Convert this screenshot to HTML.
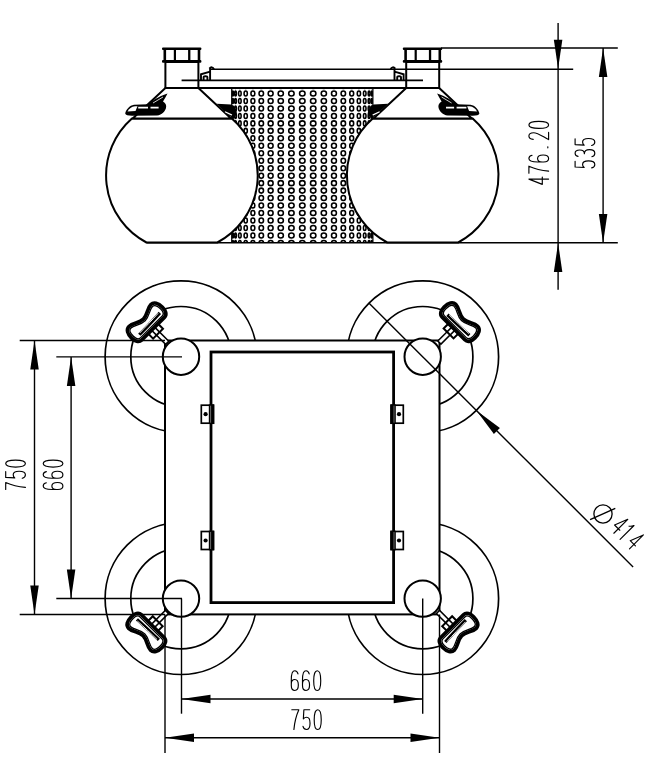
<!DOCTYPE html>
<html><head><meta charset="utf-8"><style>
html,body{margin:0;padding:0;background:#fff;width:653px;height:780px;overflow:hidden;font-family:"Liberation Sans",sans-serif;}
svg{display:block}
</style></head><body>
<svg width="653" height="780" viewBox="0 0 653 780" stroke="#000" fill="none"><defs><clipPath id="mc"><rect x="231.7" y="88" width="141.2" height="155"/></clipPath></defs>
<g clip-path="url(#mc)" stroke-width="1.55" fill="none"><ellipse cx="232.79" cy="86.03" rx="0.80" ry="2.5"/><ellipse cx="235.53" cy="86.03" rx="0.89" ry="2.5"/><ellipse cx="239.87" cy="86.03" rx="1.28" ry="2.5"/><ellipse cx="245.71" cy="86.03" rx="1.64" ry="2.5"/><ellipse cx="252.90" cy="86.03" rx="1.96" ry="2.5"/><ellipse cx="261.28" cy="86.03" rx="2.24" ry="2.5"/><ellipse cx="270.64" cy="86.03" rx="2.46" ry="2.5"/><ellipse cx="280.76" cy="86.03" rx="2.62" ry="2.5"/><ellipse cx="291.40" cy="86.03" rx="2.72" ry="2.5"/><ellipse cx="302.30" cy="86.03" rx="2.75" ry="2.5"/><ellipse cx="313.20" cy="86.03" rx="2.72" ry="2.5"/><ellipse cx="323.84" cy="86.03" rx="2.62" ry="2.5"/><ellipse cx="333.96" cy="86.03" rx="2.46" ry="2.5"/><ellipse cx="343.32" cy="86.03" rx="2.24" ry="2.5"/><ellipse cx="351.70" cy="86.03" rx="1.96" ry="2.5"/><ellipse cx="358.89" cy="86.03" rx="1.64" ry="2.5"/><ellipse cx="364.73" cy="86.03" rx="1.28" ry="2.5"/><ellipse cx="369.07" cy="86.03" rx="0.89" ry="2.5"/><ellipse cx="371.81" cy="86.03" rx="0.80" ry="2.5"/><ellipse cx="232.79" cy="93.50" rx="0.80" ry="2.5"/><ellipse cx="235.53" cy="93.50" rx="0.89" ry="2.5"/><ellipse cx="239.87" cy="93.50" rx="1.28" ry="2.5"/><ellipse cx="245.71" cy="93.50" rx="1.64" ry="2.5"/><ellipse cx="252.90" cy="93.50" rx="1.96" ry="2.5"/><ellipse cx="261.28" cy="93.50" rx="2.24" ry="2.5"/><ellipse cx="270.64" cy="93.50" rx="2.46" ry="2.5"/><ellipse cx="280.76" cy="93.50" rx="2.62" ry="2.5"/><ellipse cx="291.40" cy="93.50" rx="2.72" ry="2.5"/><ellipse cx="302.30" cy="93.50" rx="2.75" ry="2.5"/><ellipse cx="313.20" cy="93.50" rx="2.72" ry="2.5"/><ellipse cx="323.84" cy="93.50" rx="2.62" ry="2.5"/><ellipse cx="333.96" cy="93.50" rx="2.46" ry="2.5"/><ellipse cx="343.32" cy="93.50" rx="2.24" ry="2.5"/><ellipse cx="351.70" cy="93.50" rx="1.96" ry="2.5"/><ellipse cx="358.89" cy="93.50" rx="1.64" ry="2.5"/><ellipse cx="364.73" cy="93.50" rx="1.28" ry="2.5"/><ellipse cx="369.07" cy="93.50" rx="0.89" ry="2.5"/><ellipse cx="371.81" cy="93.50" rx="0.80" ry="2.5"/><ellipse cx="232.79" cy="100.97" rx="0.80" ry="2.5"/><ellipse cx="235.53" cy="100.97" rx="0.89" ry="2.5"/><ellipse cx="239.87" cy="100.97" rx="1.28" ry="2.5"/><ellipse cx="245.71" cy="100.97" rx="1.64" ry="2.5"/><ellipse cx="252.90" cy="100.97" rx="1.96" ry="2.5"/><ellipse cx="261.28" cy="100.97" rx="2.24" ry="2.5"/><ellipse cx="270.64" cy="100.97" rx="2.46" ry="2.5"/><ellipse cx="280.76" cy="100.97" rx="2.62" ry="2.5"/><ellipse cx="291.40" cy="100.97" rx="2.72" ry="2.5"/><ellipse cx="302.30" cy="100.97" rx="2.75" ry="2.5"/><ellipse cx="313.20" cy="100.97" rx="2.72" ry="2.5"/><ellipse cx="323.84" cy="100.97" rx="2.62" ry="2.5"/><ellipse cx="333.96" cy="100.97" rx="2.46" ry="2.5"/><ellipse cx="343.32" cy="100.97" rx="2.24" ry="2.5"/><ellipse cx="351.70" cy="100.97" rx="1.96" ry="2.5"/><ellipse cx="358.89" cy="100.97" rx="1.64" ry="2.5"/><ellipse cx="364.73" cy="100.97" rx="1.28" ry="2.5"/><ellipse cx="369.07" cy="100.97" rx="0.89" ry="2.5"/><ellipse cx="371.81" cy="100.97" rx="0.80" ry="2.5"/><ellipse cx="232.79" cy="108.44" rx="0.80" ry="2.5"/><ellipse cx="235.53" cy="108.44" rx="0.89" ry="2.5"/><ellipse cx="239.87" cy="108.44" rx="1.28" ry="2.5"/><ellipse cx="245.71" cy="108.44" rx="1.64" ry="2.5"/><ellipse cx="252.90" cy="108.44" rx="1.96" ry="2.5"/><ellipse cx="261.28" cy="108.44" rx="2.24" ry="2.5"/><ellipse cx="270.64" cy="108.44" rx="2.46" ry="2.5"/><ellipse cx="280.76" cy="108.44" rx="2.62" ry="2.5"/><ellipse cx="291.40" cy="108.44" rx="2.72" ry="2.5"/><ellipse cx="302.30" cy="108.44" rx="2.75" ry="2.5"/><ellipse cx="313.20" cy="108.44" rx="2.72" ry="2.5"/><ellipse cx="323.84" cy="108.44" rx="2.62" ry="2.5"/><ellipse cx="333.96" cy="108.44" rx="2.46" ry="2.5"/><ellipse cx="343.32" cy="108.44" rx="2.24" ry="2.5"/><ellipse cx="351.70" cy="108.44" rx="1.96" ry="2.5"/><ellipse cx="358.89" cy="108.44" rx="1.64" ry="2.5"/><ellipse cx="364.73" cy="108.44" rx="1.28" ry="2.5"/><ellipse cx="369.07" cy="108.44" rx="0.89" ry="2.5"/><ellipse cx="371.81" cy="108.44" rx="0.80" ry="2.5"/><ellipse cx="232.79" cy="115.91" rx="0.80" ry="2.5"/><ellipse cx="235.53" cy="115.91" rx="0.89" ry="2.5"/><ellipse cx="239.87" cy="115.91" rx="1.28" ry="2.5"/><ellipse cx="245.71" cy="115.91" rx="1.64" ry="2.5"/><ellipse cx="252.90" cy="115.91" rx="1.96" ry="2.5"/><ellipse cx="261.28" cy="115.91" rx="2.24" ry="2.5"/><ellipse cx="270.64" cy="115.91" rx="2.46" ry="2.5"/><ellipse cx="280.76" cy="115.91" rx="2.62" ry="2.5"/><ellipse cx="291.40" cy="115.91" rx="2.72" ry="2.5"/><ellipse cx="302.30" cy="115.91" rx="2.75" ry="2.5"/><ellipse cx="313.20" cy="115.91" rx="2.72" ry="2.5"/><ellipse cx="323.84" cy="115.91" rx="2.62" ry="2.5"/><ellipse cx="333.96" cy="115.91" rx="2.46" ry="2.5"/><ellipse cx="343.32" cy="115.91" rx="2.24" ry="2.5"/><ellipse cx="351.70" cy="115.91" rx="1.96" ry="2.5"/><ellipse cx="358.89" cy="115.91" rx="1.64" ry="2.5"/><ellipse cx="364.73" cy="115.91" rx="1.28" ry="2.5"/><ellipse cx="369.07" cy="115.91" rx="0.89" ry="2.5"/><ellipse cx="371.81" cy="115.91" rx="0.80" ry="2.5"/><ellipse cx="232.79" cy="123.38" rx="0.80" ry="2.5"/><ellipse cx="235.53" cy="123.38" rx="0.89" ry="2.5"/><ellipse cx="239.87" cy="123.38" rx="1.28" ry="2.5"/><ellipse cx="245.71" cy="123.38" rx="1.64" ry="2.5"/><ellipse cx="252.90" cy="123.38" rx="1.96" ry="2.5"/><ellipse cx="261.28" cy="123.38" rx="2.24" ry="2.5"/><ellipse cx="270.64" cy="123.38" rx="2.46" ry="2.5"/><ellipse cx="280.76" cy="123.38" rx="2.62" ry="2.5"/><ellipse cx="291.40" cy="123.38" rx="2.72" ry="2.5"/><ellipse cx="302.30" cy="123.38" rx="2.75" ry="2.5"/><ellipse cx="313.20" cy="123.38" rx="2.72" ry="2.5"/><ellipse cx="323.84" cy="123.38" rx="2.62" ry="2.5"/><ellipse cx="333.96" cy="123.38" rx="2.46" ry="2.5"/><ellipse cx="343.32" cy="123.38" rx="2.24" ry="2.5"/><ellipse cx="351.70" cy="123.38" rx="1.96" ry="2.5"/><ellipse cx="358.89" cy="123.38" rx="1.64" ry="2.5"/><ellipse cx="364.73" cy="123.38" rx="1.28" ry="2.5"/><ellipse cx="369.07" cy="123.38" rx="0.89" ry="2.5"/><ellipse cx="371.81" cy="123.38" rx="0.80" ry="2.5"/><ellipse cx="232.79" cy="130.85" rx="0.80" ry="2.5"/><ellipse cx="235.53" cy="130.85" rx="0.89" ry="2.5"/><ellipse cx="239.87" cy="130.85" rx="1.28" ry="2.5"/><ellipse cx="245.71" cy="130.85" rx="1.64" ry="2.5"/><ellipse cx="252.90" cy="130.85" rx="1.96" ry="2.5"/><ellipse cx="261.28" cy="130.85" rx="2.24" ry="2.5"/><ellipse cx="270.64" cy="130.85" rx="2.46" ry="2.5"/><ellipse cx="280.76" cy="130.85" rx="2.62" ry="2.5"/><ellipse cx="291.40" cy="130.85" rx="2.72" ry="2.5"/><ellipse cx="302.30" cy="130.85" rx="2.75" ry="2.5"/><ellipse cx="313.20" cy="130.85" rx="2.72" ry="2.5"/><ellipse cx="323.84" cy="130.85" rx="2.62" ry="2.5"/><ellipse cx="333.96" cy="130.85" rx="2.46" ry="2.5"/><ellipse cx="343.32" cy="130.85" rx="2.24" ry="2.5"/><ellipse cx="351.70" cy="130.85" rx="1.96" ry="2.5"/><ellipse cx="358.89" cy="130.85" rx="1.64" ry="2.5"/><ellipse cx="364.73" cy="130.85" rx="1.28" ry="2.5"/><ellipse cx="369.07" cy="130.85" rx="0.89" ry="2.5"/><ellipse cx="371.81" cy="130.85" rx="0.80" ry="2.5"/><ellipse cx="232.79" cy="138.32" rx="0.80" ry="2.5"/><ellipse cx="235.53" cy="138.32" rx="0.89" ry="2.5"/><ellipse cx="239.87" cy="138.32" rx="1.28" ry="2.5"/><ellipse cx="245.71" cy="138.32" rx="1.64" ry="2.5"/><ellipse cx="252.90" cy="138.32" rx="1.96" ry="2.5"/><ellipse cx="261.28" cy="138.32" rx="2.24" ry="2.5"/><ellipse cx="270.64" cy="138.32" rx="2.46" ry="2.5"/><ellipse cx="280.76" cy="138.32" rx="2.62" ry="2.5"/><ellipse cx="291.40" cy="138.32" rx="2.72" ry="2.5"/><ellipse cx="302.30" cy="138.32" rx="2.75" ry="2.5"/><ellipse cx="313.20" cy="138.32" rx="2.72" ry="2.5"/><ellipse cx="323.84" cy="138.32" rx="2.62" ry="2.5"/><ellipse cx="333.96" cy="138.32" rx="2.46" ry="2.5"/><ellipse cx="343.32" cy="138.32" rx="2.24" ry="2.5"/><ellipse cx="351.70" cy="138.32" rx="1.96" ry="2.5"/><ellipse cx="358.89" cy="138.32" rx="1.64" ry="2.5"/><ellipse cx="364.73" cy="138.32" rx="1.28" ry="2.5"/><ellipse cx="369.07" cy="138.32" rx="0.89" ry="2.5"/><ellipse cx="371.81" cy="138.32" rx="0.80" ry="2.5"/><ellipse cx="232.79" cy="145.79" rx="0.80" ry="2.5"/><ellipse cx="235.53" cy="145.79" rx="0.89" ry="2.5"/><ellipse cx="239.87" cy="145.79" rx="1.28" ry="2.5"/><ellipse cx="245.71" cy="145.79" rx="1.64" ry="2.5"/><ellipse cx="252.90" cy="145.79" rx="1.96" ry="2.5"/><ellipse cx="261.28" cy="145.79" rx="2.24" ry="2.5"/><ellipse cx="270.64" cy="145.79" rx="2.46" ry="2.5"/><ellipse cx="280.76" cy="145.79" rx="2.62" ry="2.5"/><ellipse cx="291.40" cy="145.79" rx="2.72" ry="2.5"/><ellipse cx="302.30" cy="145.79" rx="2.75" ry="2.5"/><ellipse cx="313.20" cy="145.79" rx="2.72" ry="2.5"/><ellipse cx="323.84" cy="145.79" rx="2.62" ry="2.5"/><ellipse cx="333.96" cy="145.79" rx="2.46" ry="2.5"/><ellipse cx="343.32" cy="145.79" rx="2.24" ry="2.5"/><ellipse cx="351.70" cy="145.79" rx="1.96" ry="2.5"/><ellipse cx="358.89" cy="145.79" rx="1.64" ry="2.5"/><ellipse cx="364.73" cy="145.79" rx="1.28" ry="2.5"/><ellipse cx="369.07" cy="145.79" rx="0.89" ry="2.5"/><ellipse cx="371.81" cy="145.79" rx="0.80" ry="2.5"/><ellipse cx="232.79" cy="153.26" rx="0.80" ry="2.5"/><ellipse cx="235.53" cy="153.26" rx="0.89" ry="2.5"/><ellipse cx="239.87" cy="153.26" rx="1.28" ry="2.5"/><ellipse cx="245.71" cy="153.26" rx="1.64" ry="2.5"/><ellipse cx="252.90" cy="153.26" rx="1.96" ry="2.5"/><ellipse cx="261.28" cy="153.26" rx="2.24" ry="2.5"/><ellipse cx="270.64" cy="153.26" rx="2.46" ry="2.5"/><ellipse cx="280.76" cy="153.26" rx="2.62" ry="2.5"/><ellipse cx="291.40" cy="153.26" rx="2.72" ry="2.5"/><ellipse cx="302.30" cy="153.26" rx="2.75" ry="2.5"/><ellipse cx="313.20" cy="153.26" rx="2.72" ry="2.5"/><ellipse cx="323.84" cy="153.26" rx="2.62" ry="2.5"/><ellipse cx="333.96" cy="153.26" rx="2.46" ry="2.5"/><ellipse cx="343.32" cy="153.26" rx="2.24" ry="2.5"/><ellipse cx="351.70" cy="153.26" rx="1.96" ry="2.5"/><ellipse cx="358.89" cy="153.26" rx="1.64" ry="2.5"/><ellipse cx="364.73" cy="153.26" rx="1.28" ry="2.5"/><ellipse cx="369.07" cy="153.26" rx="0.89" ry="2.5"/><ellipse cx="371.81" cy="153.26" rx="0.80" ry="2.5"/><ellipse cx="232.79" cy="160.73" rx="0.80" ry="2.5"/><ellipse cx="235.53" cy="160.73" rx="0.89" ry="2.5"/><ellipse cx="239.87" cy="160.73" rx="1.28" ry="2.5"/><ellipse cx="245.71" cy="160.73" rx="1.64" ry="2.5"/><ellipse cx="252.90" cy="160.73" rx="1.96" ry="2.5"/><ellipse cx="261.28" cy="160.73" rx="2.24" ry="2.5"/><ellipse cx="270.64" cy="160.73" rx="2.46" ry="2.5"/><ellipse cx="280.76" cy="160.73" rx="2.62" ry="2.5"/><ellipse cx="291.40" cy="160.73" rx="2.72" ry="2.5"/><ellipse cx="302.30" cy="160.73" rx="2.75" ry="2.5"/><ellipse cx="313.20" cy="160.73" rx="2.72" ry="2.5"/><ellipse cx="323.84" cy="160.73" rx="2.62" ry="2.5"/><ellipse cx="333.96" cy="160.73" rx="2.46" ry="2.5"/><ellipse cx="343.32" cy="160.73" rx="2.24" ry="2.5"/><ellipse cx="351.70" cy="160.73" rx="1.96" ry="2.5"/><ellipse cx="358.89" cy="160.73" rx="1.64" ry="2.5"/><ellipse cx="364.73" cy="160.73" rx="1.28" ry="2.5"/><ellipse cx="369.07" cy="160.73" rx="0.89" ry="2.5"/><ellipse cx="371.81" cy="160.73" rx="0.80" ry="2.5"/><ellipse cx="232.79" cy="168.20" rx="0.80" ry="2.5"/><ellipse cx="235.53" cy="168.20" rx="0.89" ry="2.5"/><ellipse cx="239.87" cy="168.20" rx="1.28" ry="2.5"/><ellipse cx="245.71" cy="168.20" rx="1.64" ry="2.5"/><ellipse cx="252.90" cy="168.20" rx="1.96" ry="2.5"/><ellipse cx="261.28" cy="168.20" rx="2.24" ry="2.5"/><ellipse cx="270.64" cy="168.20" rx="2.46" ry="2.5"/><ellipse cx="280.76" cy="168.20" rx="2.62" ry="2.5"/><ellipse cx="291.40" cy="168.20" rx="2.72" ry="2.5"/><ellipse cx="302.30" cy="168.20" rx="2.75" ry="2.5"/><ellipse cx="313.20" cy="168.20" rx="2.72" ry="2.5"/><ellipse cx="323.84" cy="168.20" rx="2.62" ry="2.5"/><ellipse cx="333.96" cy="168.20" rx="2.46" ry="2.5"/><ellipse cx="343.32" cy="168.20" rx="2.24" ry="2.5"/><ellipse cx="351.70" cy="168.20" rx="1.96" ry="2.5"/><ellipse cx="358.89" cy="168.20" rx="1.64" ry="2.5"/><ellipse cx="364.73" cy="168.20" rx="1.28" ry="2.5"/><ellipse cx="369.07" cy="168.20" rx="0.89" ry="2.5"/><ellipse cx="371.81" cy="168.20" rx="0.80" ry="2.5"/><ellipse cx="232.79" cy="175.67" rx="0.80" ry="2.5"/><ellipse cx="235.53" cy="175.67" rx="0.89" ry="2.5"/><ellipse cx="239.87" cy="175.67" rx="1.28" ry="2.5"/><ellipse cx="245.71" cy="175.67" rx="1.64" ry="2.5"/><ellipse cx="252.90" cy="175.67" rx="1.96" ry="2.5"/><ellipse cx="261.28" cy="175.67" rx="2.24" ry="2.5"/><ellipse cx="270.64" cy="175.67" rx="2.46" ry="2.5"/><ellipse cx="280.76" cy="175.67" rx="2.62" ry="2.5"/><ellipse cx="291.40" cy="175.67" rx="2.72" ry="2.5"/><ellipse cx="302.30" cy="175.67" rx="2.75" ry="2.5"/><ellipse cx="313.20" cy="175.67" rx="2.72" ry="2.5"/><ellipse cx="323.84" cy="175.67" rx="2.62" ry="2.5"/><ellipse cx="333.96" cy="175.67" rx="2.46" ry="2.5"/><ellipse cx="343.32" cy="175.67" rx="2.24" ry="2.5"/><ellipse cx="351.70" cy="175.67" rx="1.96" ry="2.5"/><ellipse cx="358.89" cy="175.67" rx="1.64" ry="2.5"/><ellipse cx="364.73" cy="175.67" rx="1.28" ry="2.5"/><ellipse cx="369.07" cy="175.67" rx="0.89" ry="2.5"/><ellipse cx="371.81" cy="175.67" rx="0.80" ry="2.5"/><ellipse cx="232.79" cy="183.14" rx="0.80" ry="2.5"/><ellipse cx="235.53" cy="183.14" rx="0.89" ry="2.5"/><ellipse cx="239.87" cy="183.14" rx="1.28" ry="2.5"/><ellipse cx="245.71" cy="183.14" rx="1.64" ry="2.5"/><ellipse cx="252.90" cy="183.14" rx="1.96" ry="2.5"/><ellipse cx="261.28" cy="183.14" rx="2.24" ry="2.5"/><ellipse cx="270.64" cy="183.14" rx="2.46" ry="2.5"/><ellipse cx="280.76" cy="183.14" rx="2.62" ry="2.5"/><ellipse cx="291.40" cy="183.14" rx="2.72" ry="2.5"/><ellipse cx="302.30" cy="183.14" rx="2.75" ry="2.5"/><ellipse cx="313.20" cy="183.14" rx="2.72" ry="2.5"/><ellipse cx="323.84" cy="183.14" rx="2.62" ry="2.5"/><ellipse cx="333.96" cy="183.14" rx="2.46" ry="2.5"/><ellipse cx="343.32" cy="183.14" rx="2.24" ry="2.5"/><ellipse cx="351.70" cy="183.14" rx="1.96" ry="2.5"/><ellipse cx="358.89" cy="183.14" rx="1.64" ry="2.5"/><ellipse cx="364.73" cy="183.14" rx="1.28" ry="2.5"/><ellipse cx="369.07" cy="183.14" rx="0.89" ry="2.5"/><ellipse cx="371.81" cy="183.14" rx="0.80" ry="2.5"/><ellipse cx="232.79" cy="190.61" rx="0.80" ry="2.5"/><ellipse cx="235.53" cy="190.61" rx="0.89" ry="2.5"/><ellipse cx="239.87" cy="190.61" rx="1.28" ry="2.5"/><ellipse cx="245.71" cy="190.61" rx="1.64" ry="2.5"/><ellipse cx="252.90" cy="190.61" rx="1.96" ry="2.5"/><ellipse cx="261.28" cy="190.61" rx="2.24" ry="2.5"/><ellipse cx="270.64" cy="190.61" rx="2.46" ry="2.5"/><ellipse cx="280.76" cy="190.61" rx="2.62" ry="2.5"/><ellipse cx="291.40" cy="190.61" rx="2.72" ry="2.5"/><ellipse cx="302.30" cy="190.61" rx="2.75" ry="2.5"/><ellipse cx="313.20" cy="190.61" rx="2.72" ry="2.5"/><ellipse cx="323.84" cy="190.61" rx="2.62" ry="2.5"/><ellipse cx="333.96" cy="190.61" rx="2.46" ry="2.5"/><ellipse cx="343.32" cy="190.61" rx="2.24" ry="2.5"/><ellipse cx="351.70" cy="190.61" rx="1.96" ry="2.5"/><ellipse cx="358.89" cy="190.61" rx="1.64" ry="2.5"/><ellipse cx="364.73" cy="190.61" rx="1.28" ry="2.5"/><ellipse cx="369.07" cy="190.61" rx="0.89" ry="2.5"/><ellipse cx="371.81" cy="190.61" rx="0.80" ry="2.5"/><ellipse cx="232.79" cy="198.08" rx="0.80" ry="2.5"/><ellipse cx="235.53" cy="198.08" rx="0.89" ry="2.5"/><ellipse cx="239.87" cy="198.08" rx="1.28" ry="2.5"/><ellipse cx="245.71" cy="198.08" rx="1.64" ry="2.5"/><ellipse cx="252.90" cy="198.08" rx="1.96" ry="2.5"/><ellipse cx="261.28" cy="198.08" rx="2.24" ry="2.5"/><ellipse cx="270.64" cy="198.08" rx="2.46" ry="2.5"/><ellipse cx="280.76" cy="198.08" rx="2.62" ry="2.5"/><ellipse cx="291.40" cy="198.08" rx="2.72" ry="2.5"/><ellipse cx="302.30" cy="198.08" rx="2.75" ry="2.5"/><ellipse cx="313.20" cy="198.08" rx="2.72" ry="2.5"/><ellipse cx="323.84" cy="198.08" rx="2.62" ry="2.5"/><ellipse cx="333.96" cy="198.08" rx="2.46" ry="2.5"/><ellipse cx="343.32" cy="198.08" rx="2.24" ry="2.5"/><ellipse cx="351.70" cy="198.08" rx="1.96" ry="2.5"/><ellipse cx="358.89" cy="198.08" rx="1.64" ry="2.5"/><ellipse cx="364.73" cy="198.08" rx="1.28" ry="2.5"/><ellipse cx="369.07" cy="198.08" rx="0.89" ry="2.5"/><ellipse cx="371.81" cy="198.08" rx="0.80" ry="2.5"/><ellipse cx="232.79" cy="205.55" rx="0.80" ry="2.5"/><ellipse cx="235.53" cy="205.55" rx="0.89" ry="2.5"/><ellipse cx="239.87" cy="205.55" rx="1.28" ry="2.5"/><ellipse cx="245.71" cy="205.55" rx="1.64" ry="2.5"/><ellipse cx="252.90" cy="205.55" rx="1.96" ry="2.5"/><ellipse cx="261.28" cy="205.55" rx="2.24" ry="2.5"/><ellipse cx="270.64" cy="205.55" rx="2.46" ry="2.5"/><ellipse cx="280.76" cy="205.55" rx="2.62" ry="2.5"/><ellipse cx="291.40" cy="205.55" rx="2.72" ry="2.5"/><ellipse cx="302.30" cy="205.55" rx="2.75" ry="2.5"/><ellipse cx="313.20" cy="205.55" rx="2.72" ry="2.5"/><ellipse cx="323.84" cy="205.55" rx="2.62" ry="2.5"/><ellipse cx="333.96" cy="205.55" rx="2.46" ry="2.5"/><ellipse cx="343.32" cy="205.55" rx="2.24" ry="2.5"/><ellipse cx="351.70" cy="205.55" rx="1.96" ry="2.5"/><ellipse cx="358.89" cy="205.55" rx="1.64" ry="2.5"/><ellipse cx="364.73" cy="205.55" rx="1.28" ry="2.5"/><ellipse cx="369.07" cy="205.55" rx="0.89" ry="2.5"/><ellipse cx="371.81" cy="205.55" rx="0.80" ry="2.5"/><ellipse cx="232.79" cy="213.02" rx="0.80" ry="2.5"/><ellipse cx="235.53" cy="213.02" rx="0.89" ry="2.5"/><ellipse cx="239.87" cy="213.02" rx="1.28" ry="2.5"/><ellipse cx="245.71" cy="213.02" rx="1.64" ry="2.5"/><ellipse cx="252.90" cy="213.02" rx="1.96" ry="2.5"/><ellipse cx="261.28" cy="213.02" rx="2.24" ry="2.5"/><ellipse cx="270.64" cy="213.02" rx="2.46" ry="2.5"/><ellipse cx="280.76" cy="213.02" rx="2.62" ry="2.5"/><ellipse cx="291.40" cy="213.02" rx="2.72" ry="2.5"/><ellipse cx="302.30" cy="213.02" rx="2.75" ry="2.5"/><ellipse cx="313.20" cy="213.02" rx="2.72" ry="2.5"/><ellipse cx="323.84" cy="213.02" rx="2.62" ry="2.5"/><ellipse cx="333.96" cy="213.02" rx="2.46" ry="2.5"/><ellipse cx="343.32" cy="213.02" rx="2.24" ry="2.5"/><ellipse cx="351.70" cy="213.02" rx="1.96" ry="2.5"/><ellipse cx="358.89" cy="213.02" rx="1.64" ry="2.5"/><ellipse cx="364.73" cy="213.02" rx="1.28" ry="2.5"/><ellipse cx="369.07" cy="213.02" rx="0.89" ry="2.5"/><ellipse cx="371.81" cy="213.02" rx="0.80" ry="2.5"/><ellipse cx="232.79" cy="220.49" rx="0.80" ry="2.5"/><ellipse cx="235.53" cy="220.49" rx="0.89" ry="2.5"/><ellipse cx="239.87" cy="220.49" rx="1.28" ry="2.5"/><ellipse cx="245.71" cy="220.49" rx="1.64" ry="2.5"/><ellipse cx="252.90" cy="220.49" rx="1.96" ry="2.5"/><ellipse cx="261.28" cy="220.49" rx="2.24" ry="2.5"/><ellipse cx="270.64" cy="220.49" rx="2.46" ry="2.5"/><ellipse cx="280.76" cy="220.49" rx="2.62" ry="2.5"/><ellipse cx="291.40" cy="220.49" rx="2.72" ry="2.5"/><ellipse cx="302.30" cy="220.49" rx="2.75" ry="2.5"/><ellipse cx="313.20" cy="220.49" rx="2.72" ry="2.5"/><ellipse cx="323.84" cy="220.49" rx="2.62" ry="2.5"/><ellipse cx="333.96" cy="220.49" rx="2.46" ry="2.5"/><ellipse cx="343.32" cy="220.49" rx="2.24" ry="2.5"/><ellipse cx="351.70" cy="220.49" rx="1.96" ry="2.5"/><ellipse cx="358.89" cy="220.49" rx="1.64" ry="2.5"/><ellipse cx="364.73" cy="220.49" rx="1.28" ry="2.5"/><ellipse cx="369.07" cy="220.49" rx="0.89" ry="2.5"/><ellipse cx="371.81" cy="220.49" rx="0.80" ry="2.5"/><ellipse cx="232.79" cy="227.96" rx="0.80" ry="2.5"/><ellipse cx="235.53" cy="227.96" rx="0.89" ry="2.5"/><ellipse cx="239.87" cy="227.96" rx="1.28" ry="2.5"/><ellipse cx="245.71" cy="227.96" rx="1.64" ry="2.5"/><ellipse cx="252.90" cy="227.96" rx="1.96" ry="2.5"/><ellipse cx="261.28" cy="227.96" rx="2.24" ry="2.5"/><ellipse cx="270.64" cy="227.96" rx="2.46" ry="2.5"/><ellipse cx="280.76" cy="227.96" rx="2.62" ry="2.5"/><ellipse cx="291.40" cy="227.96" rx="2.72" ry="2.5"/><ellipse cx="302.30" cy="227.96" rx="2.75" ry="2.5"/><ellipse cx="313.20" cy="227.96" rx="2.72" ry="2.5"/><ellipse cx="323.84" cy="227.96" rx="2.62" ry="2.5"/><ellipse cx="333.96" cy="227.96" rx="2.46" ry="2.5"/><ellipse cx="343.32" cy="227.96" rx="2.24" ry="2.5"/><ellipse cx="351.70" cy="227.96" rx="1.96" ry="2.5"/><ellipse cx="358.89" cy="227.96" rx="1.64" ry="2.5"/><ellipse cx="364.73" cy="227.96" rx="1.28" ry="2.5"/><ellipse cx="369.07" cy="227.96" rx="0.89" ry="2.5"/><ellipse cx="371.81" cy="227.96" rx="0.80" ry="2.5"/><ellipse cx="232.79" cy="235.43" rx="0.80" ry="2.5"/><ellipse cx="235.53" cy="235.43" rx="0.89" ry="2.5"/><ellipse cx="239.87" cy="235.43" rx="1.28" ry="2.5"/><ellipse cx="245.71" cy="235.43" rx="1.64" ry="2.5"/><ellipse cx="252.90" cy="235.43" rx="1.96" ry="2.5"/><ellipse cx="261.28" cy="235.43" rx="2.24" ry="2.5"/><ellipse cx="270.64" cy="235.43" rx="2.46" ry="2.5"/><ellipse cx="280.76" cy="235.43" rx="2.62" ry="2.5"/><ellipse cx="291.40" cy="235.43" rx="2.72" ry="2.5"/><ellipse cx="302.30" cy="235.43" rx="2.75" ry="2.5"/><ellipse cx="313.20" cy="235.43" rx="2.72" ry="2.5"/><ellipse cx="323.84" cy="235.43" rx="2.62" ry="2.5"/><ellipse cx="333.96" cy="235.43" rx="2.46" ry="2.5"/><ellipse cx="343.32" cy="235.43" rx="2.24" ry="2.5"/><ellipse cx="351.70" cy="235.43" rx="1.96" ry="2.5"/><ellipse cx="358.89" cy="235.43" rx="1.64" ry="2.5"/><ellipse cx="364.73" cy="235.43" rx="1.28" ry="2.5"/><ellipse cx="369.07" cy="235.43" rx="0.89" ry="2.5"/><ellipse cx="371.81" cy="235.43" rx="0.80" ry="2.5"/><ellipse cx="232.79" cy="242.90" rx="0.80" ry="2.5"/><ellipse cx="235.53" cy="242.90" rx="0.89" ry="2.5"/><ellipse cx="239.87" cy="242.90" rx="1.28" ry="2.5"/><ellipse cx="245.71" cy="242.90" rx="1.64" ry="2.5"/><ellipse cx="252.90" cy="242.90" rx="1.96" ry="2.5"/><ellipse cx="261.28" cy="242.90" rx="2.24" ry="2.5"/><ellipse cx="270.64" cy="242.90" rx="2.46" ry="2.5"/><ellipse cx="280.76" cy="242.90" rx="2.62" ry="2.5"/><ellipse cx="291.40" cy="242.90" rx="2.72" ry="2.5"/><ellipse cx="302.30" cy="242.90" rx="2.75" ry="2.5"/><ellipse cx="313.20" cy="242.90" rx="2.72" ry="2.5"/><ellipse cx="323.84" cy="242.90" rx="2.62" ry="2.5"/><ellipse cx="333.96" cy="242.90" rx="2.46" ry="2.5"/><ellipse cx="343.32" cy="242.90" rx="2.24" ry="2.5"/><ellipse cx="351.70" cy="242.90" rx="1.96" ry="2.5"/><ellipse cx="358.89" cy="242.90" rx="1.64" ry="2.5"/><ellipse cx="364.73" cy="242.90" rx="1.28" ry="2.5"/><ellipse cx="369.07" cy="242.90" rx="0.89" ry="2.5"/><ellipse cx="371.81" cy="242.90" rx="0.80" ry="2.5"/></g>
<path d="M231.7,88 L231.7,243 M372.9,88 L372.9,243" stroke-width="1.2"/>
<path d="M131.93,118.5 L231.87,118.5 A75.8,75.8 0 0 1 217.35,242.5 L146.45,242.5 A75.8,75.8 0 0 1 131.93,118.5 Z" fill="#fff" stroke-width="2"/>
<path d="M165.40,88 L198.40,88 L231.10,118.5 L132.70,118.5 Z" fill="#fff" stroke-width="2"/>
<rect x="165.40" y="62" width="33" height="26" fill="#fff" stroke-width="2"/>
<rect x="162.00" y="47.4" width="39.4" height="2.6" rx="1" fill="#000" stroke="none"/>
<rect x="162.00" y="59.9" width="39.4" height="2.8" rx="1" fill="#000" stroke="none"/>
<rect x="163.50" y="49" width="2.6" height="11.5" fill="#000" stroke="none"/>
<rect x="197.70" y="49" width="2.6" height="11.5" fill="#000" stroke="none"/>
<rect x="173.80" y="49" width="2.2" height="11.5" fill="#000" stroke="none"/>
<rect x="188.10" y="49" width="2.3" height="11.5" fill="#000" stroke="none"/>
<path d="M372.73,118.5 L472.67,118.5 A75.8,75.8 0 0 1 458.15,242.5 L387.25,242.5 A75.8,75.8 0 0 1 372.73,118.5 Z" fill="#fff" stroke-width="2"/>
<path d="M406.20,88 L439.20,88 L471.90,118.5 L373.50,118.5 Z" fill="#fff" stroke-width="2"/>
<rect x="406.20" y="62" width="33" height="26" fill="#fff" stroke-width="2"/>
<rect x="402.80" y="47.4" width="39.4" height="2.6" rx="1" fill="#000" stroke="none"/>
<rect x="402.80" y="59.9" width="39.4" height="2.8" rx="1" fill="#000" stroke="none"/>
<rect x="404.30" y="49" width="2.6" height="11.5" fill="#000" stroke="none"/>
<rect x="438.50" y="49" width="2.6" height="11.5" fill="#000" stroke="none"/>
<rect x="414.60" y="49" width="2.2" height="11.5" fill="#000" stroke="none"/>
<rect x="428.90" y="49" width="2.3" height="11.5" fill="#000" stroke="none"/>
<line x1="211.00" y1="69.20" x2="573.20" y2="69.20" stroke-width="1.6"/>
<line x1="181.60" y1="80.30" x2="423.00" y2="80.30" stroke-width="1.8"/>
<line x1="165.30" y1="88.00" x2="439.30" y2="88.00" stroke-width="1.8"/>
<line x1="441.00" y1="48.10" x2="617.80" y2="48.10" stroke-width="1.5"/>
<line x1="146.50" y1="242.80" x2="617.80" y2="242.80" stroke-width="1.5"/>
<g ><path d="M210.1,80 V68.6 M213.9,69.2 C213,67 211,66.6 209.4,68.6 M210.1,71.6 L201,74.3 V80 M203.6,80 V77.3 C203.6,75.8 207.4,75.8 207.4,77.3 V80" stroke-width="1.9" fill="none"/></g>
<g transform="translate(604.6,0) scale(-1,1)"><path d="M210.1,80 V68.6 M213.9,69.2 C213,67 211,66.6 209.4,68.6 M210.1,71.6 L201,74.3 V80 M203.6,80 V77.3 C203.6,75.8 207.4,75.8 207.4,77.3 V80" stroke-width="1.9" fill="none"/></g>
<g ><path d="M125.2,113.6 C126,109.5 129.5,105.5 134,104.8 L148,104.2 C152,101 158,96.5 167.5,93.4 C166,96.5 164.5,99 163,101.5 C165.5,103 166.8,105 166,108 C165,111.5 162,114.8 157,115.6 L132,115.8 C128,115.8 125.5,115.2 125.2,113.6 Z" fill="#000" stroke="none"/><path d="M127.5,111.5 C129,108.5 131.5,106.5 135,106.2 L137.5,106.2 L135.5,111 Z" fill="#fff" stroke="none"/><path d="M138.2,107.6 H148 M150.5,107.6 H158.6" stroke="#fff" stroke-width="1.9"/><path d="M153,103 L163,97" stroke="#fff" stroke-width="0.8"/></g>
<g transform="translate(604.6,0) scale(-1,1)"><path d="M125.2,113.6 C126,109.5 129.5,105.5 134,104.8 L148,104.2 C152,101 158,96.5 167.5,93.4 C166,96.5 164.5,99 163,101.5 C165.5,103 166.8,105 166,108 C165,111.5 162,114.8 157,115.6 L132,115.8 C128,115.8 125.5,115.2 125.2,113.6 Z" fill="#000" stroke="none"/><path d="M127.5,111.5 C129,108.5 131.5,106.5 135,106.2 L137.5,106.2 L135.5,111 Z" fill="#fff" stroke="none"/><path d="M138.2,107.6 H148 M150.5,107.6 H158.6" stroke="#fff" stroke-width="1.9"/><path d="M153,103 L163,97" stroke="#fff" stroke-width="0.8"/></g>
<g ><path d="M216.5,103.8 L231,104.4 C234.5,106.5 237,110 236.8,113.5 C236,116.5 233,117.5 230,116.5 L 222,109 Z" fill="#000" stroke="none"/><path d="M225.5,112 L231.5,114.8" stroke="#fff" stroke-width="1.3" stroke-linecap="round"/></g>
<g transform="translate(604.6,0) scale(-1,1)"><path d="M216.5,103.8 L231,104.4 C234.5,106.5 237,110 236.8,113.5 C236,116.5 233,117.5 230,116.5 L 222,109 Z" fill="#000" stroke="none"/><path d="M225.5,112 L231.5,114.8" stroke="#fff" stroke-width="1.3" stroke-linecap="round"/></g>
<line x1="558.10" y1="23.00" x2="558.10" y2="289.70" stroke-width="1.4"/>
<path d="M558.10,68.80 L553.85,39.80 L562.35,39.80 Z" fill="#000" stroke="none"/>
<path d="M558.10,243.00 L562.35,272.00 L553.85,272.00 Z" fill="#000" stroke="none"/>
<line x1="603.10" y1="48.10" x2="603.10" y2="243.00" stroke-width="1.4"/>
<path d="M603.10,48.10 L607.35,77.10 L598.85,77.10 Z" fill="#000" stroke="none"/>
<path d="M603.10,243.00 L598.85,214.00 L607.35,214.00 Z" fill="#000" stroke="none"/>
<g transform="translate(548.90,184.40) rotate(-90) translate(0,-20)" stroke-width="1.15" stroke-linecap="round" stroke-linejoin="round"><path transform="translate(0,0) scale(0.88,0.985)" d="M6,20 L6,0 L0,13.6 L8.4,13.6" vector-effect="non-scaling-stroke"/><path transform="translate(11.2,0) scale(0.88,0.985)" d="M0,0 L8,0 C5.5,5 3.2,12 2.4,20" vector-effect="non-scaling-stroke"/><path transform="translate(22.4,0) scale(0.88,0.985)" d="M7.6,3.2 C7,1 5.6,0 4,0 C1.2,0 0,3.5 0,9 L0,15 C0,18.6 1.8,20 4,20 C6.2,20 8,18.6 8,14.5 C8,10.6 6.2,8.8 4,8.8 C1.8,8.8 0,10.4 0,13.5" vector-effect="non-scaling-stroke"/><path transform="translate(33.599999999999994,0) scale(0.88,0.985)" d="M3.4,19.2 L4.6,19.2" vector-effect="non-scaling-stroke"/><path transform="translate(44.8,0) scale(0.88,0.985)" d="M0.3,4.4 C0.5,1.6 2,0 4,0 C6.2,0 7.8,1.6 7.8,4.8 C7.8,8.4 5.6,11 0,20 L8.2,20" vector-effect="non-scaling-stroke"/><path transform="translate(56.0,0) scale(0.88,0.985)" d="M4,0 C7,0 8,5 8,10 C8,15 7,20 4,20 C1,20 0,15 0,10 C0,5 1,0 4,0 Z" vector-effect="non-scaling-stroke"/></g>
<g transform="translate(595.10,167.90) rotate(-90) translate(0,-20)" stroke-width="1.15" stroke-linecap="round" stroke-linejoin="round"><path transform="translate(0,0) scale(0.88,0.985)" d="M7.6,0 L1,0 L0.4,9.2 C1.4,8.2 2.6,7.6 4,7.6 C6.4,7.6 8,9.6 8,13.6 C8,18 6.4,20 4,20 C2,20 0.6,19 0,16.8" vector-effect="non-scaling-stroke"/><path transform="translate(11.2,0) scale(0.88,0.985)" d="M0.4,3 C0.9,1 2.3,0 4,0 C6.2,0 7.6,1.6 7.6,4.8 C7.6,7.8 6,9.4 3.4,9.4 C6.4,9.4 8,11.2 8,14.6 C8,18.4 6.2,20 4,20 C2,20 0.5,19 0,17" vector-effect="non-scaling-stroke"/><path transform="translate(22.4,0) scale(0.88,0.985)" d="M7.6,0 L1,0 L0.4,9.2 C1.4,8.2 2.6,7.6 4,7.6 C6.4,7.6 8,9.6 8,13.6 C8,18 6.4,20 4,20 C2,20 0.6,19 0,16.8" vector-effect="non-scaling-stroke"/></g>
<circle cx="181.0" cy="356.7" r="75.9" fill="none" stroke-width="1.7"/>
<circle cx="181.0" cy="356.7" r="50.2" fill="none" stroke-width="1.7"/>
<circle cx="422.7" cy="356.7" r="75.9" fill="none" stroke-width="1.7"/>
<circle cx="422.7" cy="356.7" r="50.2" fill="none" stroke-width="1.7"/>
<circle cx="181.0" cy="598.6" r="75.9" fill="none" stroke-width="1.7"/>
<circle cx="181.0" cy="598.6" r="50.2" fill="none" stroke-width="1.7"/>
<circle cx="422.7" cy="598.6" r="75.9" fill="none" stroke-width="1.7"/>
<circle cx="422.7" cy="598.6" r="50.2" fill="none" stroke-width="1.7"/>
<rect x="165" y="340.5" width="274.5" height="273.9" fill="#fff" stroke-width="2"/>
<rect x="211" y="352" width="182.6" height="250.6" fill="none" stroke-width="2.8"/>
<rect x="201.30" y="405.20" width="12.3" height="18" fill="#fff" stroke-width="1.7"/>
<rect x="208.80" y="404.40" width="5.2" height="19.6" fill="#000" stroke="none"/>
<path d="M210.60,405.70 V422.70" stroke="#888" stroke-width="0.8"/>
<circle cx="205.60" cy="414.20" r="2.1" fill="#000" stroke="none"/>
<rect x="391.00" y="405.20" width="12.3" height="18" fill="#fff" stroke-width="1.7"/>
<rect x="390.60" y="404.40" width="5.2" height="19.6" fill="#000" stroke="none"/>
<path d="M394.00,405.70 V422.70" stroke="#888" stroke-width="0.8"/>
<circle cx="399.00" cy="414.20" r="2.1" fill="#000" stroke="none"/>
<rect x="201.30" y="531.50" width="12.3" height="18" fill="#fff" stroke-width="1.7"/>
<rect x="208.80" y="530.70" width="5.2" height="19.6" fill="#000" stroke="none"/>
<path d="M210.60,532.00 V549.00" stroke="#888" stroke-width="0.8"/>
<circle cx="205.60" cy="540.50" r="2.1" fill="#000" stroke="none"/>
<rect x="391.00" y="531.50" width="12.3" height="18" fill="#fff" stroke-width="1.7"/>
<rect x="390.60" y="530.70" width="5.2" height="19.6" fill="#000" stroke="none"/>
<path d="M394.00,532.00 V549.00" stroke="#888" stroke-width="0.8"/>
<circle cx="399.00" cy="540.50" r="2.1" fill="#000" stroke="none"/>
<circle cx="181.0" cy="356.7" r="18.2" fill="#fff" stroke-width="2"/>
<circle cx="422.7" cy="356.7" r="18.2" fill="#fff" stroke-width="2"/>
<circle cx="181.0" cy="598.6" r="18.2" fill="#fff" stroke-width="2"/>
<circle cx="422.7" cy="598.6" r="18.2" fill="#fff" stroke-width="2"/>
<g transform="translate(146.0,321.6) rotate(-45)"><rect x="-2.2" y="9" width="4.4" height="21" fill="#fff" stroke-width="1.5"/><rect x="-7" y="10" width="14" height="7" fill="#fff" stroke-width="2"/><path d="M-2.2,17 V9 M2.2,17 V9" stroke-width="1.6"/><path d="M-16,10 L16,10 C20,10 21.8,6 21.8,1.5 C21.8,-4.5 19.5,-8.6 15.5,-8.6 C10,-8.6 6,-3.6 0,-3.6 C-6,-3.6 -10,-8.6 -15.5,-8.6 C-19.5,-8.6 -21.8,-4.5 -21.8,1.5 C-21.8,6 -20,10 -16,10 Z" fill="#fff" stroke-width="3.7"/><path d="M-15.5,7.5 L15.5,7.5 C18,7.5 19.3,5 19.3,1.5 C19.3,-3.2 17.8,-6.1 15.5,-6.1 C10.5,-6.1 6.5,-1.2 0,-1.2 C-6.5,-1.2 -10.5,-6.1 -15.5,-6.1 C-17.8,-6.1 -19.3,-3.2 -19.3,1.5 C-19.3,5 -18,7.5 -15.5,7.5 Z" fill="none" stroke-width="1.3"/><path d="M-14,4.6 C-5,4.4 6,4.2 16,3.6" stroke-width="3.2"/><path d="M-12.5,3.6 C-5,3.4 6,3.2 14.5,2.7" stroke="#fff" stroke-width="0.9"/></g>
<g transform="translate(460.6,321.4) rotate(45)"><rect x="-2.2" y="9" width="4.4" height="21" fill="#fff" stroke-width="1.5"/><rect x="-7" y="10" width="14" height="7" fill="#fff" stroke-width="2"/><path d="M-2.2,17 V9 M2.2,17 V9" stroke-width="1.6"/><path d="M-16,10 L16,10 C20,10 21.8,6 21.8,1.5 C21.8,-4.5 19.5,-8.6 15.5,-8.6 C10,-8.6 6,-3.6 0,-3.6 C-6,-3.6 -10,-8.6 -15.5,-8.6 C-19.5,-8.6 -21.8,-4.5 -21.8,1.5 C-21.8,6 -20,10 -16,10 Z" fill="#fff" stroke-width="3.7"/><path d="M-15.5,7.5 L15.5,7.5 C18,7.5 19.3,5 19.3,1.5 C19.3,-3.2 17.8,-6.1 15.5,-6.1 C10.5,-6.1 6.5,-1.2 0,-1.2 C-6.5,-1.2 -10.5,-6.1 -15.5,-6.1 C-17.8,-6.1 -19.3,-3.2 -19.3,1.5 C-19.3,5 -18,7.5 -15.5,7.5 Z" fill="none" stroke-width="1.3"/><path d="M-14,4.6 C-5,4.4 6,4.2 16,3.6" stroke-width="3.2"/><path d="M-12.5,3.6 C-5,3.4 6,3.2 14.5,2.7" stroke="#fff" stroke-width="0.9"/></g>
<g transform="translate(145.7,633.2) rotate(-135)"><rect x="-2.2" y="9" width="4.4" height="21" fill="#fff" stroke-width="1.5"/><rect x="-7" y="10" width="14" height="7" fill="#fff" stroke-width="2"/><path d="M-2.2,17 V9 M2.2,17 V9" stroke-width="1.6"/><path d="M-16,10 L16,10 C20,10 21.8,6 21.8,1.5 C21.8,-4.5 19.5,-8.6 15.5,-8.6 C10,-8.6 6,-3.6 0,-3.6 C-6,-3.6 -10,-8.6 -15.5,-8.6 C-19.5,-8.6 -21.8,-4.5 -21.8,1.5 C-21.8,6 -20,10 -16,10 Z" fill="#fff" stroke-width="3.7"/><path d="M-15.5,7.5 L15.5,7.5 C18,7.5 19.3,5 19.3,1.5 C19.3,-3.2 17.8,-6.1 15.5,-6.1 C10.5,-6.1 6.5,-1.2 0,-1.2 C-6.5,-1.2 -10.5,-6.1 -15.5,-6.1 C-17.8,-6.1 -19.3,-3.2 -19.3,1.5 C-19.3,5 -18,7.5 -15.5,7.5 Z" fill="none" stroke-width="1.3"/><path d="M-14,4.6 C-5,4.4 6,4.2 16,3.6" stroke-width="3.2"/><path d="M-12.5,3.6 C-5,3.4 6,3.2 14.5,2.7" stroke="#fff" stroke-width="0.9"/></g>
<g transform="translate(459.2,633.2) rotate(135)"><rect x="-2.2" y="9" width="4.4" height="21" fill="#fff" stroke-width="1.5"/><rect x="-7" y="10" width="14" height="7" fill="#fff" stroke-width="2"/><path d="M-2.2,17 V9 M2.2,17 V9" stroke-width="1.6"/><path d="M-16,10 L16,10 C20,10 21.8,6 21.8,1.5 C21.8,-4.5 19.5,-8.6 15.5,-8.6 C10,-8.6 6,-3.6 0,-3.6 C-6,-3.6 -10,-8.6 -15.5,-8.6 C-19.5,-8.6 -21.8,-4.5 -21.8,1.5 C-21.8,6 -20,10 -16,10 Z" fill="#fff" stroke-width="3.7"/><path d="M-15.5,7.5 L15.5,7.5 C18,7.5 19.3,5 19.3,1.5 C19.3,-3.2 17.8,-6.1 15.5,-6.1 C10.5,-6.1 6.5,-1.2 0,-1.2 C-6.5,-1.2 -10.5,-6.1 -15.5,-6.1 C-17.8,-6.1 -19.3,-3.2 -19.3,1.5 C-19.3,5 -18,7.5 -15.5,7.5 Z" fill="none" stroke-width="1.3"/><path d="M-14,4.6 C-5,4.4 6,4.2 16,3.6" stroke-width="3.2"/><path d="M-12.5,3.6 C-5,3.4 6,3.2 14.5,2.7" stroke="#fff" stroke-width="0.9"/></g>
<line x1="19.70" y1="340.50" x2="165.00" y2="340.50" stroke-width="1.4"/>
<line x1="56.30" y1="356.90" x2="182.00" y2="356.90" stroke-width="1.4"/>
<line x1="56.30" y1="598.50" x2="182.00" y2="598.50" stroke-width="1.4"/>
<line x1="19.70" y1="614.50" x2="165.00" y2="614.50" stroke-width="1.4"/>
<line x1="165.00" y1="614.50" x2="165.00" y2="753.00" stroke-width="1.4"/>
<line x1="181.50" y1="598.60" x2="181.50" y2="713.70" stroke-width="1.4"/>
<line x1="422.70" y1="598.60" x2="422.70" y2="713.70" stroke-width="1.4"/>
<line x1="439.50" y1="614.50" x2="439.50" y2="753.00" stroke-width="1.4"/>
<line x1="34.50" y1="340.50" x2="34.50" y2="614.50" stroke-width="1.4"/>
<path d="M34.50,340.50 L38.75,369.50 L30.25,369.50 Z" fill="#000" stroke="none"/>
<path d="M34.50,614.50 L30.25,585.50 L38.75,585.50 Z" fill="#000" stroke="none"/>
<line x1="71.10" y1="356.90" x2="71.10" y2="598.50" stroke-width="1.4"/>
<path d="M71.10,356.90 L75.35,385.90 L66.85,385.90 Z" fill="#000" stroke="none"/>
<path d="M71.10,598.50 L66.85,569.50 L75.35,569.50 Z" fill="#000" stroke="none"/>
<line x1="181.50" y1="699.00" x2="422.70" y2="699.00" stroke-width="1.4"/>
<path d="M181.50,699.00 L210.50,694.75 L210.50,703.25 Z" fill="#000" stroke="none"/>
<path d="M422.70,699.00 L393.70,703.25 L393.70,694.75 Z" fill="#000" stroke="none"/>
<line x1="165.00" y1="737.70" x2="439.50" y2="737.70" stroke-width="1.4"/>
<path d="M165.00,737.70 L194.00,733.45 L194.00,741.95 Z" fill="#000" stroke="none"/>
<path d="M439.50,737.70 L410.50,741.95 L410.50,733.45 Z" fill="#000" stroke="none"/>
<g transform="translate(25.70,489.50) rotate(-90) translate(0,-20)" stroke-width="1.15" stroke-linecap="round" stroke-linejoin="round"><path transform="translate(0,0) scale(0.88,0.985)" d="M0,0 L8,0 C5.5,5 3.2,12 2.4,20" vector-effect="non-scaling-stroke"/><path transform="translate(11.2,0) scale(0.88,0.985)" d="M7.6,0 L1,0 L0.4,9.2 C1.4,8.2 2.6,7.6 4,7.6 C6.4,7.6 8,9.6 8,13.6 C8,18 6.4,20 4,20 C2,20 0.6,19 0,16.8" vector-effect="non-scaling-stroke"/><path transform="translate(22.4,0) scale(0.88,0.985)" d="M4,0 C7,0 8,5 8,10 C8,15 7,20 4,20 C1,20 0,15 0,10 C0,5 1,0 4,0 Z" vector-effect="non-scaling-stroke"/></g>
<g transform="translate(63.20,489.50) rotate(-90) translate(0,-20)" stroke-width="1.15" stroke-linecap="round" stroke-linejoin="round"><path transform="translate(0,0) scale(0.88,0.985)" d="M7.6,3.2 C7,1 5.6,0 4,0 C1.2,0 0,3.5 0,9 L0,15 C0,18.6 1.8,20 4,20 C6.2,20 8,18.6 8,14.5 C8,10.6 6.2,8.8 4,8.8 C1.8,8.8 0,10.4 0,13.5" vector-effect="non-scaling-stroke"/><path transform="translate(11.2,0) scale(0.88,0.985)" d="M7.6,3.2 C7,1 5.6,0 4,0 C1.2,0 0,3.5 0,9 L0,15 C0,18.6 1.8,20 4,20 C6.2,20 8,18.6 8,14.5 C8,10.6 6.2,8.8 4,8.8 C1.8,8.8 0,10.4 0,13.5" vector-effect="non-scaling-stroke"/><path transform="translate(22.4,0) scale(0.88,0.985)" d="M4,0 C7,0 8,5 8,10 C8,15 7,20 4,20 C1,20 0,15 0,10 C0,5 1,0 4,0 Z" vector-effect="non-scaling-stroke"/></g>
<g transform="translate(291.30,690.80) rotate(0) translate(0,-20)" stroke-width="1.15" stroke-linecap="round" stroke-linejoin="round"><path transform="translate(0,0) scale(0.88,0.985)" d="M7.6,3.2 C7,1 5.6,0 4,0 C1.2,0 0,3.5 0,9 L0,15 C0,18.6 1.8,20 4,20 C6.2,20 8,18.6 8,14.5 C8,10.6 6.2,8.8 4,8.8 C1.8,8.8 0,10.4 0,13.5" vector-effect="non-scaling-stroke"/><path transform="translate(11.2,0) scale(0.88,0.985)" d="M7.6,3.2 C7,1 5.6,0 4,0 C1.2,0 0,3.5 0,9 L0,15 C0,18.6 1.8,20 4,20 C6.2,20 8,18.6 8,14.5 C8,10.6 6.2,8.8 4,8.8 C1.8,8.8 0,10.4 0,13.5" vector-effect="non-scaling-stroke"/><path transform="translate(22.4,0) scale(0.88,0.985)" d="M4,0 C7,0 8,5 8,10 C8,15 7,20 4,20 C1,20 0,15 0,10 C0,5 1,0 4,0 Z" vector-effect="non-scaling-stroke"/></g>
<g transform="translate(291.80,729.80) rotate(0) translate(0,-20)" stroke-width="1.15" stroke-linecap="round" stroke-linejoin="round"><path transform="translate(0,0) scale(0.88,0.985)" d="M0,0 L8,0 C5.5,5 3.2,12 2.4,20" vector-effect="non-scaling-stroke"/><path transform="translate(11.2,0) scale(0.88,0.985)" d="M7.6,0 L1,0 L0.4,9.2 C1.4,8.2 2.6,7.6 4,7.6 C6.4,7.6 8,9.6 8,13.6 C8,18 6.4,20 4,20 C2,20 0.6,19 0,16.8" vector-effect="non-scaling-stroke"/><path transform="translate(22.4,0) scale(0.88,0.985)" d="M4,0 C7,0 8,5 8,10 C8,15 7,20 4,20 C1,20 0,15 0,10 C0,5 1,0 4,0 Z" vector-effect="non-scaling-stroke"/></g>
<line x1="369.10" y1="303.20" x2="633.10" y2="566.90" stroke-width="1.4"/>
<path d="M476.40,410.40 L499.91,427.90 L493.90,433.91 Z" fill="#000" stroke="none"/>
<circle cx="603.0" cy="514.0" r="9.1" stroke-width="1.3"/>
<line x1="590.10" y1="519.60" x2="615.30" y2="508.30" stroke-width="1.3"/>
<g transform="translate(609.90,529.70) rotate(45) translate(0,-20)" stroke-width="1.15" stroke-linecap="round" stroke-linejoin="round"><path transform="translate(0,0) scale(0.88,0.985)" d="M6,20 L6,0 L0,13.6 L8.4,13.6" vector-effect="non-scaling-stroke"/><path transform="translate(9.7,0) scale(0.88,0.985)" d="M1.6,4 C3,3 4.2,1.8 5,0 L5,20" vector-effect="non-scaling-stroke"/><path transform="translate(22.1,0) scale(0.88,0.985)" d="M6,20 L6,0 L0,13.6 L8.4,13.6" vector-effect="non-scaling-stroke"/></g></svg>
</body></html>
